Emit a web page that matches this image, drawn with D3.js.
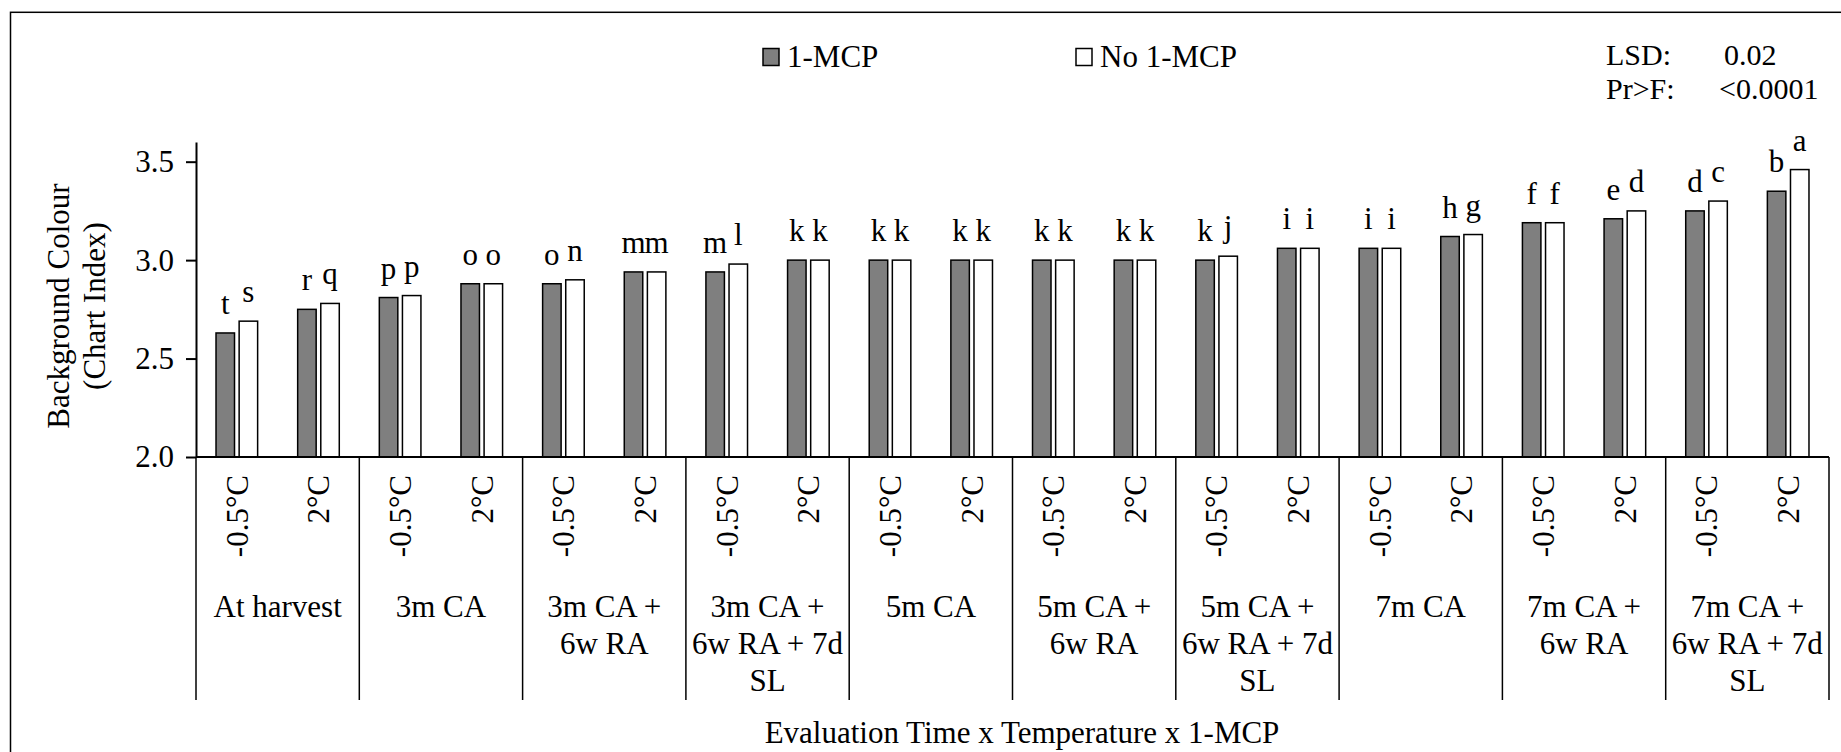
<!DOCTYPE html>
<html>

<head>
    <meta charset="utf-8">
    <title>Background Colour</title>
    <script src="https://cdnjs.cloudflare.com/ajax/libs/d3/7.8.5/d3.min.js"></script>
    <style>
        body { margin: 0; background: #fff; }
        svg { display: block; font-family: "Liberation Serif", "Times New Roman", serif; }
    </style>
</head>

<body>
    <div id="chart"></div>

    <script>
        // evaluation time groups (label lines as wrapped in the original)
        var groupLabels = [
            ["At harvest"],
            ["3m CA"],
            ["3m CA +", "6w RA"],
            ["3m CA +", "6w RA + 7d", "SL"],
            ["5m CA"],
            ["5m CA +", "6w RA"],
            ["5m CA +", "6w RA + 7d", "SL"],
            ["7m CA"],
            ["7m CA +", "6w RA"],
            ["7m CA +", "6w RA + 7d", "SL"]
        ];
        var temps = ["-0.5°C", "2°C"];
        var seriesNames = ["1-MCP", "No 1-MCP"];

        // one value per group x temperature, in order
        var withMcp = [2.63, 2.75, 2.81, 2.88, 2.88, 2.94, 2.94, 3.00, 3.00, 3.00,
                       3.00, 3.00, 3.00, 3.06, 3.06, 3.12, 3.19, 3.21, 3.25, 3.35];
        var noMcp = [2.69, 2.78, 2.82, 2.88, 2.90, 2.94, 2.98, 3.00, 3.00, 3.00,
                     3.00, 3.00, 3.02, 3.06, 3.06, 3.13, 3.19, 3.25, 3.30, 3.46];
        var withMcpLetters = ["t", "r", "p", "o", "o", "m", "m", "k", "k", "k",
                              "k", "k", "k", "i", "i", "h", "f", "e", "d", "b"];
        var noMcpLetters = ["s", "q", "p", "o", "n", "m", "l", "k", "k", "k",
                            "k", "k", "j", "i", "i", "g", "f", "d", "c", "a"];

        var yTicks = [2.0, 2.5, 3.0, 3.5];
        var yDomain = [2.0, 3.6];
        var statsLabels = ["LSD:", "Pr>F:"];
        var statsValues = ["0.02", "<0.0001"];

        var W = 1841, H = 752;
        var margin = { top: 142, right: 12, bottom: 295, left: 196 };
        var width = W - margin.left - margin.right;
        var height = H - margin.top - margin.bottom;
        var fontSize = "31px";

        var svg = d3.select("#chart").append("svg")
            .attr("width", W)
            .attr("height", H);

        // outer frame
        svg.append("rect")
            .attr("x", 10.5).attr("y", 12.3)
            .attr("width", W).attr("height", H)
            .attr("fill", "none")
            .attr("stroke", "#000")
            .attr("stroke-width", 1.5);

        var chart = svg.append("g")
            .attr("transform", "translate(" + margin.left + "," + margin.top + ")");

        var cats = [];
        for (var g = 0; g < groupLabels.length; g++) {
            for (var t = 0; t < temps.length; t++) {
                var idx = cats.length;
                cats.push({
                    i: idx, group: g, temp: temps[t],
                    vals: [withMcp[idx], noMcp[idx]],
                    letters: [withMcpLetters[idx], noMcpLetters[idx]]
                });
            }
        }

        var x = d3.scaleBand()
            .domain(d3.range(cats.length))
            .range([0, width]);

        var xInner = d3.scaleBand()
            .domain([0, 1])
            .range([0, x.bandwidth()])
            .paddingInner(0.2)
            .paddingOuter(0.866);

        var y = d3.scaleLinear().domain(yDomain).range([height, 0]);

        var fills = ["#7f7f7f", "#ffffff"];

        // bars + letters
        var catG = chart.selectAll(".cat").data(cats).enter().append("g")
            .attr("transform", function (d) { return "translate(" + x(d.i) + ",0)"; });

        catG.selectAll("rect").data(function (d) {
            return d.vals.map(function (v, k) { return { k: k, v: v }; });
        }).enter().append("rect")
            .attr("x", function (d) { return xInner(d.k); })
            .attr("y", function (d) { return y(d.v); })
            .attr("width", xInner.bandwidth())
            .attr("height", function (d) { return height - y(d.v); })
            .attr("fill", function (d) { return fills[d.k]; })
            .attr("stroke", "#000")
            .attr("stroke-width", 1.5);

        catG.selectAll("text.letter").data(function (d) {
            return d.vals.map(function (v, k) { return { k: k, v: v, s: d.letters[k] }; });
        }).enter().append("text")
            .attr("class", "letter")
            .attr("x", function (d) { return xInner(d.k) + xInner.bandwidth() / 2; })
            .attr("y", function (d) { return y(d.v) - 19; })
            .attr("text-anchor", "middle")
            .style("font-size", fontSize)
            .text(function (d) { return d.s; });

        // y axis
        var yAxis = chart.append("g")
            .call(d3.axisLeft(y).tickValues(yTicks).tickFormat(d3.format(".1f"))
                .tickSize(10).tickSizeOuter(0).tickPadding(12))
            .attr("font-family", null)
            .attr("font-size", null);
        yAxis.selectAll("path, line").attr("stroke", "#000").attr("stroke-width", 2);
        yAxis.selectAll("text").style("font-size", fontSize).attr("fill", "#000");

        // x axis baseline
        chart.append("line")
            .attr("x1", 0).attr("x2", width)
            .attr("y1", height).attr("y2", height)
            .attr("stroke", "#000").attr("stroke-width", 2);

        // group dividers
        var bounds = d3.range(groupLabels.length + 1).map(function (gi) {
            return gi < groupLabels.length ? x(gi * 2) : width;
        });
        chart.selectAll(".divider").data(bounds).enter().append("line")
            .attr("x1", function (d) { return d; })
            .attr("x2", function (d) { return d; })
            .attr("y1", height)
            .attr("y2", height + 243)
            .attr("stroke", "#000")
            .attr("stroke-width", 1.5);

        // temperature labels
        chart.selectAll(".temp").data(cats).enter().append("text")
            .attr("transform", function (d) {
                return "translate(" + (x(d.i) + x.bandwidth() / 2) + "," + (height + 18) + ") rotate(-90)";
            })
            .attr("dy", "0.35em")
            .attr("text-anchor", "end")
            .style("font-size", fontSize)
            .text(function (d) { return d.temp; });

        // group labels
        var gl = chart.selectAll(".glabel").data(groupLabels).enter().append("text")
            .attr("text-anchor", "middle")
            .style("font-size", fontSize)
            .attr("transform", function (d, i) {
                return "translate(" + (x(i * 2) + x.bandwidth()) + "," + (height + 160) + ")";
            });
        gl.selectAll("tspan").data(function (d) { return d; }).enter().append("tspan")
            .attr("x", 0)
            .attr("y", function (d, i) { return i * 37; })
            .text(function (d) { return d; });

        // axis titles
        chart.append("text")
            .attr("x", 826)
            .attr("y", H - margin.top - 9)
            .attr("text-anchor", "middle")
            .style("font-size", fontSize)
            .text("Evaluation Time x Temperature x 1-MCP");

        var yTitle = svg.append("text")
            .attr("transform", "translate(0,306) rotate(-90)")
            .attr("text-anchor", "middle")
            .style("font-size", fontSize);
        yTitle.append("tspan").attr("x", 0).attr("y", 69).text("Background Colour");
        yTitle.append("tspan").attr("x", 0).attr("y", 105).text("(Chart Index)");

        // legend
        var legendX = [763, 1076];
        var legend = svg.selectAll(".legend").data(seriesNames).enter().append("g")
            .attr("transform", function (d, i) { return "translate(" + legendX[i] + ",48.5)"; });
        legend.append("rect")
            .attr("width", 16).attr("height", 17)
            .attr("fill", function (d, i) { return fills[i]; })
            .attr("stroke", "#000").attr("stroke-width", 1.5);
        legend.append("text")
            .attr("x", 24).attr("y", 18)
            .style("font-size", fontSize)
            .text(function (d) { return d; });

        // stats box
        var statsValueX = [1724, 1719];
        svg.selectAll(".statl").data(statsLabels).enter().append("text")
            .attr("x", 1606)
            .attr("y", function (d, i) { return 65 + i * 34; })
            .style("font-size", "30px")
            .text(function (d) { return d; });
        svg.selectAll(".statv").data(statsValues).enter().append("text")
            .attr("x", function (d, i) { return statsValueX[i]; })
            .attr("y", function (d, i) { return 65 + i * 34; })
            .style("font-size", "30px")
            .text(function (d) { return d; });
    </script>

</body>

</html>
